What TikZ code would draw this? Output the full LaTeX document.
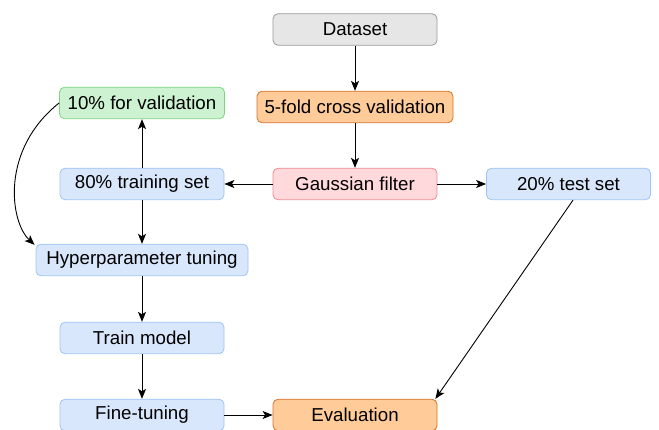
\documentclass[tikz,border=0pt]{standalone}
\usepackage{fontspec}
\setmainfont{Liberation Sans}
\usetikzlibrary{arrows.meta,calc}
\definecolor{grayfill}{HTML}{E6E6E6}
\definecolor{graydraw}{HTML}{999999}
\definecolor{orfill}{HTML}{FFCC99}
\definecolor{ordraw}{HTML}{D6712C}
\definecolor{pkfill}{HTML}{FFD9DC}
\definecolor{pkdraw}{HTML}{F08A90}
\definecolor{grfill}{HTML}{CCF2D1}
\definecolor{grdraw}{HTML}{80D480}
\definecolor{blfill}{HTML}{D9E7FC}
\definecolor{bldraw}{HTML}{9EC3F5}
\begin{document}
\begin{tikzpicture}[x=1pt,y=-1pt,
  box/.style={rounded corners=5pt, line width=0.8pt, minimum height=31.5pt, inner sep=0pt,
    font=\fontsize{18.7}{21}\selectfont, text=black},
  graybox/.style={box, fill=grayfill, draw=graydraw},
  orbox/.style={box, fill=orfill, draw=ordraw},
  pkbox/.style={box, fill=pkfill, draw=pkdraw},
  grbox/.style={box, fill=grfill, draw=grdraw},
  blbox/.style={box, fill=blfill, draw=bldraw},
  arr/.style={-{Stealth[length=10pt,width=8pt,inset=2.5pt]}, line width=0.9pt, draw=black}]
\useasboundingbox (0,0) rectangle (659,430);
\node[graybox, minimum width=164pt] (data) at (355,29.5) {Dataset};
\node[orbox, minimum width=196pt] (cv) at (355,107) {5-fold cross validation};
\node[pkbox, minimum width=164pt] (gauss) at (355,184) {Gaussian filter};
\node[grbox, minimum width=165pt] (val) at (142,103) {10\% for validation};
\node[blbox, minimum width=164pt] (train) at (142,184) {80\% training set};
\node[blbox, minimum width=164pt] (test) at (568.5,184) {20\% test set};
\node[blbox, minimum width=212pt] (hyper) at (142,260) {Hyperparameter tuning};
\node[blbox, minimum width=164pt] (model) at (142,338) {Train model};
\node[blbox, minimum width=164pt] (fine) at (142,415) {Fine-tuning};
\node[orbox, minimum width=164pt] (eval) at (355,415) {Evaluation};
\draw[arr] (data) -- (cv);
\draw[arr] (cv) -- (gauss);
\draw[arr] (gauss) -- (train);
\draw[arr] (gauss) -- (test);
\draw[arr] (train) -- (val);
\draw[arr] (train) -- (hyper);
\draw[arr] (val.west) .. controls (0,150) and (10,222) .. ($(hyper.north west)+(-1,1)$);
\draw[arr] (hyper) -- (model);
\draw[arr] (model) -- (fine);
\draw[arr] (fine) -- (eval);
\draw[arr] ($(test.south)+(4.5,0)$) -- ($(eval.north east)+(-2,0)$);
\end{tikzpicture}
\end{document}
